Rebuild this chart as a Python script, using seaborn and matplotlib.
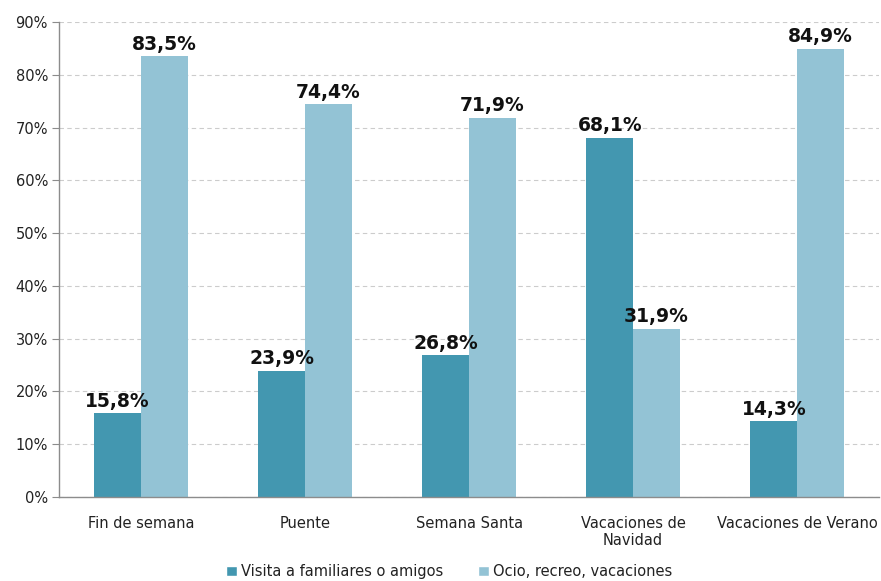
import matplotlib
matplotlib.use("Agg")
import matplotlib.pyplot as plt
import seaborn as sns
import pandas as pd
from matplotlib.ticker import FuncFormatter
from matplotlib.patches import Patch

categories = ["Fin de semana", "Puente", "Semana Santa", "Vacaciones de\nNavidad", "Vacaciones de Verano"]
series_names = ["Visita a familiares o amigos", "Ocio, recreo, vacaciones"]
visita = [15.8, 23.9, 26.8, 68.1, 14.3]
ocio = [83.5, 74.4, 71.9, 31.9, 84.9]
colors = ["#4397B0", "#93C3D5"]

rows = []
for c, v in zip(categories, visita):
    rows.append({"cat": c, "serie": series_names[0], "val": v})
for c, v in zip(categories, ocio):
    rows.append({"cat": c, "serie": series_names[1], "val": v})
df = pd.DataFrame(rows)

sns.set_style("white")
plt.rcParams['font.family'] = ['DejaVu Sans']

fig = plt.figure(figsize=(8.81, 5.81), dpi=100)
ax = fig.add_axes([0.067, 0.145, 0.931, 0.817])

sns.barplot(data=df, x="cat", y="val", hue="serie", order=categories,
            hue_order=series_names, palette=colors, width=0.57,
            saturation=1, ax=ax, legend=False, errorbar=None, linewidth=0)

ax.set_ylim(0, 90)
ax.set_xlim(-0.5, 4.5)
ax.set_yticks(range(0, 91, 10))
ax.yaxis.set_major_formatter(FuncFormatter(lambda v, p: f"{int(v)}%"))
ax.grid(axis="y", linestyle=(0, (4, 3)), color="#CCCCCC", linewidth=0.8)
ax.set_axisbelow(True)
for s in ["top", "right"]:
    ax.spines[s].set_visible(False)
for s in ["left", "bottom"]:
    ax.spines[s].set_color("#8C8C8C")
    ax.spines[s].set_linewidth(1)
ax.tick_params(axis="y", which="both", left=True, length=5, color="#8C8C8C", labelsize=10.5, pad=3, labelcolor="#222222")
ax.tick_params(axis="x", bottom=False, labelsize=10.5, pad=10, labelcolor="#222222")
ax.set_xlabel("")
ax.set_ylabel("")

for cont in ax.containers:
    for bar in cont:
        h = bar.get_height()
        ax.annotate(f"{h:.1f}".replace(".", ",") + "%",
                    (bar.get_x() + bar.get_width() / 2, h),
                    xytext=(0, 2), textcoords="offset points",
                    ha="center", va="bottom", fontsize=13.5, fontweight="bold",
                    color="#111111")

handles = [Patch(facecolor=colors[0]), Patch(facecolor=colors[1])]
fig.legend(handles, series_names, loc="lower center", bbox_to_anchor=(0.51, -0.02),
           ncol=2, frameon=False, fontsize=10.5, handlelength=0.7, handleheight=0.7,
           handletextpad=0.3, columnspacing=2.4, labelcolor="#222222")

fig.savefig("out.png", dpi=100)
